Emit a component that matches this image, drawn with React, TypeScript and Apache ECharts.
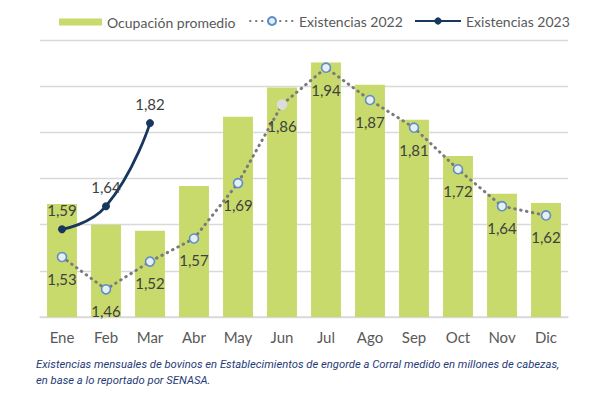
import React, { useEffect, useRef } from "react";
import * as echarts from "echarts";

const months = ["Ene", "Feb", "Mar", "Abr", "May", "Jun", "Jul", "Ago", "Sep", "Oct", "Nov", "Dic"];
// Ocupación promedio (bar heights read on the same hidden scale)
const ocupacion = [1.645, 1.6, 1.587, 1.684, 1.834, 1.897, 1.951, 1.903, 1.827, 1.749, 1.667, 1.647];
const existencias2022 = [1.53, 1.46, 1.52, 1.57, 1.69, 1.86, 1.94, 1.87, 1.81, 1.72, 1.64, 1.62];
const existencias2023 = [1.59, 1.64, 1.82];

const caption1 = "Existencias mensuales de bovinos en Establecimientos de engorde a Corral medido en millones de cabezas,";
const caption2 = "en base a lo reportado por SENASA.";

const fmt = (p: any) => {
  const v = typeof p.value === "object" ? p.value.value : p.value;
  return Number(v).toFixed(2).replace(".", ",");
};

export default function App() {
  const ref = useRef<HTMLDivElement>(null);
  useEffect(() => {
    document.body.style.margin = "0";
    if (!ref.current) return;
    const chart = echarts.init(ref.current, undefined, { renderer: "svg" });
    const font = "Lato";
    const legendBase = {
      top: 15,
      padding: 0,
      itemWidth: 43,
      itemHeight: 7,
      itemGap: 10,
      textStyle: { color: "#595959", fontSize: 14, fontFamily: font },
    };
    chart.setOption({
      animation: false,
      backgroundColor: "#ffffff",
      textStyle: { fontFamily: font },
      grid: { left: 40, right: 34, top: 40, bottom: 80, containLabel: false },
      legend: [
        { ...legendBase, left: 59, data: [{ name: "Ocupación promedio", icon: "rect" }] },
        { ...legendBase, left: 249, top: 14, itemWidth: 44, itemHeight: 10, data: [{ name: "Existencias 2022" }] },
        { ...legendBase, left: 414, top: 14, itemWidth: 46, itemHeight: 9, data: [{ name: "Existencias 2023" }] },
      ],
      xAxis: {
        type: "category",
        data: months,
        axisLine: { lineStyle: { color: "#d9d9d9", width: 1.5 } },
        axisTick: { show: false },
        axisLabel: { color: "#595959", fontSize: 15, margin: 12, fontFamily: font },
      },
      yAxis: {
        type: "value",
        min: 1.4,
        max: 2.0,
        interval: 0.1,
        axisLabel: { show: false },
        axisLine: { show: false },
        axisTick: { show: false },
        splitLine: { lineStyle: { color: "#d9d9d9", width: 1.3 } },
      },
      series: [
        {
          name: "Ocupación promedio",
          type: "bar",
          data: ocupacion,
          barCategoryGap: "32%",
          itemStyle: { color: "#c8da6b" },
          z: 1,
        },
        {
          name: "Existencias 2022",
          type: "line",
          data: existencias2022.map((v, i) =>
            i === 5
              ? { value: v, itemStyle: { color: "#dcdcdc", borderColor: "#dcdcdc" } }
              : v
          ),
          symbol: "circle",
          symbolSize: 9,
          itemStyle: { color: "#eaeef2", borderColor: "#5b8fc9", borderWidth: 1.6 },
          lineStyle: { color: "#7a7a7a", width: 3, type: [0.5, 5.5], cap: "round" },
          label: {
            show: true,
            position: "bottom",
            distance: 9,
            formatter: fmt,
            color: "#404040",
            fontSize: 15,
            fontFamily: font,
          },
          z: 3,
        },
        {
          name: "Existencias 2023",
          type: "line",
          data: existencias2023,
          smooth: true,
          symbol: "circle",
          symbolSize: 8,
          itemStyle: { color: "#17375e" },
          lineStyle: { color: "#17375e", width: 2.8 },
          label: {
            show: true,
            position: "top",
            distance: 8,
            formatter: fmt,
            color: "#404040",
            fontSize: 15,
            fontFamily: font,
          },
          z: 4,
        },
      ],
      graphic: [
        {
          type: "text",
          left: 36,
          top: 359,
          style: {
            text: caption1,
            fill: "#1f3c78",
            font: "italic 11.25px Roboto",
          },
        },
        {
          type: "text",
          left: 36,
          top: 375,
          style: {
            text: caption2,
            fill: "#1f3c78",
            font: "italic 11.25px Roboto",
          },
        },
      ],
    });
    return () => chart.dispose();
  }, []);
  return <div ref={ref} style={{ width: 602, height: 397 }} />;
}
